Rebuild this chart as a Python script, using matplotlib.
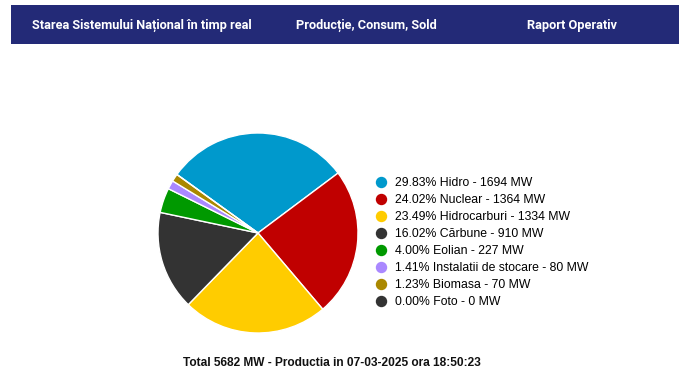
import matplotlib
matplotlib.use("Agg")
import matplotlib.pyplot as plt
from matplotlib.lines import Line2D
from matplotlib.patches import Rectangle

categories = ["Hidro", "Nuclear", "Hidrocarburi", "Cărbune", "Eolian",
              "Instalatii de stocare", "Biomasa", "Foto"]
percents = [29.83, 24.02, 23.49, 16.02, 4.00, 1.41, 1.23, 0.00]
mw = [1694, 1364, 1334, 910, 227, 80, 70, 0]
colors = ["#0099cc", "#c00000", "#ffcc00", "#333333", "#009900",
          "#aa88ff", "#aa8800", "#333333"]
header_items = ["Starea Sistemului Național în timp real",
                "Producție, Consum, Sold", "Raport Operativ"]
total_mw = 5682
timestamp = "07-03-2025 ora 18:50:23"

W, H = 679, 379
fig = plt.figure(figsize=(W / 100, H / 100), dpi=100)
fig.patch.set_facecolor("white")

# header bar
fig.patches.append(Rectangle((11 / W, 1 - 44 / H), (679 - 11) / W, 39 / H,
                             transform=fig.transFigure, facecolor="#232a77",
                             edgecolor="none"))
hx = [142, 366, 572]
for x, t in zip(hx, header_items):
    fig.text(x / W, 1 - 25 / H, t, color="white", fontsize=9.2, fontweight="bold",
             ha="center", va="center",
             family=["Liberation Sans Narrow", "Roboto", "DejaVu Sans"])

# pie
cx, cy, r = 258, 233, 100
ax = fig.add_axes([(cx - r) / W, 1 - (cy + r) / H, 2 * r / W, 2 * r / H])
ax.pie(mw, colors=colors, startangle=144.2, counterclock=False,
       wedgeprops=dict(edgecolor="white", linewidth=1), radius=1)
ax.set_xlim(-1, 1)
ax.set_ylim(-1, 1)
ax.set_aspect("auto")
ax.axis("off")

# legend
handles = [Line2D([0], [0], marker="o", linestyle="none", markersize=7.2,
                  markerfacecolor=c, markeredgecolor=c) for c in colors]
labels = [f"{p:.2f}% {c} - {m} MW" for p, c, m in zip(percents, categories, mw)]
leg = fig.legend(handles, labels, loc="upper left",
                 bbox_to_anchor=(375 / W, 1 - 177.5 / H), frameon=False,
                 prop=dict(family="Liberation Sans", size=8.8),
                 handlelength=0.9, handletextpad=0.75, labelspacing=0.405,
                 borderaxespad=0, borderpad=0)

fig.text(332 / W, 1 - 363 / H,
         f"Total {total_mw} MW - Productia in {timestamp}",
         ha="center", va="center", fontsize=8.6, fontweight="bold",
         family="Liberation Sans", color="#111111")

fig.savefig("out.png", dpi=100)
